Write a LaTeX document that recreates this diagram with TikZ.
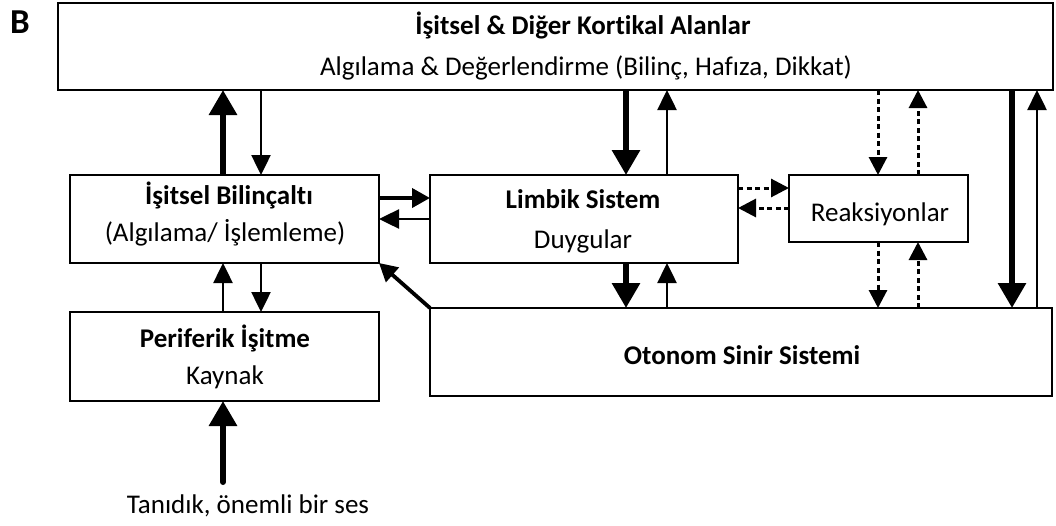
\documentclass[tikz,border=0pt]{standalone}
\usepackage{fontspec}
\setmainfont{Carlito}[Ligatures=NoCommon]
\usetikzlibrary{arrows.meta}
\begin{document}
\begin{tikzpicture}[x=1pt,y=-1pt,
  box/.style={draw, line width=1.6pt, rectangle, inner sep=0pt, outer sep=0pt, anchor=north west},
  lbl/.style={anchor=base, inner sep=0pt, font=\fontsize{27}{30}\selectfont},
  blbl/.style={anchor=base, inner sep=0pt, font=\fontsize{27}{30}\selectfont\bfseries},
  thickarr/.style={line width=6pt, -{Triangle[width=27pt,length=25pt]}},
  thinarr/.style={line width=2.5pt, -{Triangle[width=19pt,length=20pt]}},
  medarr/.style={line width=3.8pt, -{Triangle[width=19pt,length=18pt]}},
  dasharr/.style={line width=3pt, dash pattern=on 5pt off 3.5pt, -{Triangle[width=18pt,length=18pt]}},
]
\useasboundingbox (0,0) rectangle (1056,525);

% boxes
\node[box, minimum width=995pt, minimum height=87pt] (top) at (58,3) {};
\node[box, minimum width=309pt, minimum height=88pt] (bil) at (70,175) {};
\node[box, minimum width=308pt, minimum height=88pt] (lim) at (430,175) {};
\node[box, minimum width=179pt, minimum height=67pt] (rea) at (789,175) {};
\node[box, minimum width=309pt, minimum height=89pt] (per) at (70,312) {};
\node[box, minimum width=622pt, minimum height=88pt] (oto) at (430,308) {};

% labels
\node[anchor=base west, inner sep=0pt, font=\fontsize{35}{38}\selectfont\bfseries] (B) at (10,33) {B};
\node[blbl] (toptitle) at (583,34) {İşitsel \& Diğer Kortikal Alanlar};
\node[lbl] (topsub) at (586,75) {Algılama \& Değerlendirme (Bilinç, Hafıza, Dikkat)};
\node[blbl] (biltitle) at (229,204) {İşitsel Bilinçaltı};
\node[lbl] (bilsub) at (225,241) {(Algılama/ İşlemleme)};
\node[blbl] (limtitle) at (583,208) {Limbik Sistem};
\node[lbl] (limsub) at (583,248) {Duygular};
\node[lbl] (reatext) at (880,221) {Reaksiyonlar};
\node[blbl] (pertitle) at (225,347) {Periferik İşitme};
\node[lbl] (persub) at (225,384) {Kaynak};
\node[blbl] (ototitle) at (742,364) {Otonom Sinir Sistemi};
\node[lbl] (sound) at (248,513) {Tanıdık, önemli bir ses};

% helper columns / rows
\coordinate (c1) at (223,0);
\coordinate (c2) at (261,0);
\coordinate (c3) at (626,0);
\coordinate (c4) at (667,0);
\coordinate (c5) at (878,0);
\coordinate (c6) at (918,0);
\coordinate (c7) at (1012,0);
\coordinate (c8) at (1037,0);
\coordinate (r1) at (0,198);
\coordinate (r2) at (0,219);
\coordinate (r3) at (0,188);
\coordinate (r4) at (0,208);
\coordinate (src) at (223,482);

% vertical connectors
\draw[thickarr] (bil.north -| c1) -- (top.south -| c1);
\draw[thinarr] (top.south -| c2) -- (bil.north -| c2);
\draw[thickarr] (top.south -| c3) -- (lim.north -| c3);
\draw[thinarr] (lim.north -| c4) -- (top.south -| c4);
\draw[dasharr] (top.south -| c5) -- (rea.north -| c5);
\draw[dasharr] (rea.north -| c6) -- (top.south -| c6);
\draw[thickarr] (top.south -| c7) -- (oto.north -| c7);
\draw[thinarr] (oto.north -| c8) -- (top.south -| c8);
\draw[thickarr] (lim.south -| c3) -- (oto.north -| c3);
\draw[thinarr] (oto.north -| c4) -- (lim.south -| c4);
\draw[dasharr] (rea.south -| c5) -- (oto.north -| c5);
\draw[dasharr] (oto.north -| c6) -- (rea.south -| c6);
\draw[thinarr] (per.north -| c1) -- (bil.south -| c1);
\draw[thinarr] (bil.south -| c2) -- (per.north -| c2);
\draw[thickarr, line cap=round] (src) -- (per.south -| c1);

% horizontal connectors
\draw[medarr] (bil.east |- r1) -- (lim.west |- r1);
\draw[thinarr] (lim.west |- r2) -- (bil.east |- r2);
\draw[dasharr] (lim.east |- r3) -- (rea.west |- r3);
\draw[dasharr] (rea.west |- r4) -- (lim.east |- r4);

% diagonal
\draw[medarr] (oto.north west) -- (bil.south east);
\end{tikzpicture}
\end{document}
